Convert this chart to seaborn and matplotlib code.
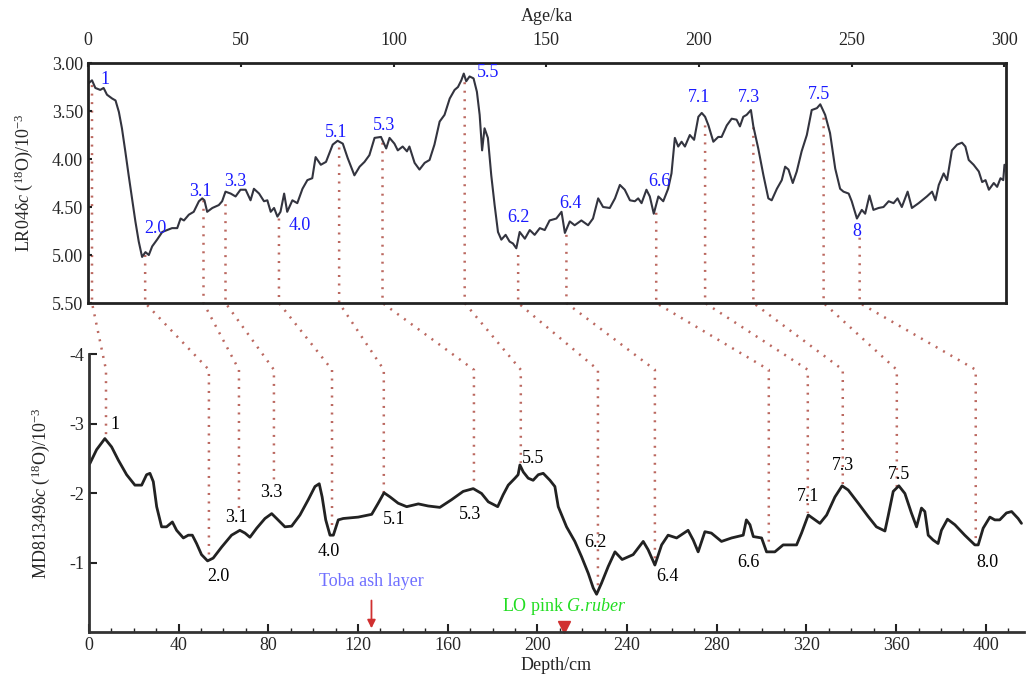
import numpy as np
import pandas as pd
import matplotlib
matplotlib.use("Agg")
import matplotlib.pyplot as plt
import seaborn as sns
from matplotlib.lines import Line2D

# LR04 stack (age in ka, value)
lr04_age = [0.2, 1.3, 2.4, 4.0, 5.1, 6.2, 7.9, 9.0, 10.1, 11.1, 12.2, 13.3, 14.4, 15.5, 16.6, 17.7,
            18.8, 19.9, 21.0, 22.6, 24.3, 27.5, 29.2, 30.3, 31.4, 33.0, 34.6, 36.3, 37.4, 38.1, 39.0,
            40.7, 42.8, 43.9, 45.0, 46.7, 48.3, 49.9, 51.6, 53.2, 54.3, 56.0, 57.6, 58.7, 59.8, 60.9,
            62.0, 63.0, 64.2, 65.2, 66.9, 68.5, 70.2, 71.8, 73.4, 74.5, 76.2, 77.9, 80.1, 81.7, 83.4,
            85.0, 87.2, 88.9, 90.5, 92.1, 93.8, 95.9, 97.6, 98.7, 100.3, 101.4, 103.0, 104.4, 105.2,
            106.9, 108.5, 110.2, 111.8, 113.4, 115.1, 116.7, 118.4, 120.0, 121.1, 122.2, 123.0, 123.8,
            124.9, 126.2, 127.3, 128.2, 129.0, 129.8, 130.9, 132.0, 133.1, 134.2, 135.3, 136.7, 138.0,
            139.1, 140.2, 141.3, 143.0, 144.6, 146.2, 147.9, 149.5, 151.1, 153.3, 155.0, 156.1, 157.7,
            159.3, 161.5, 163.7, 165.3, 167.0, 168.6, 170.8, 172.5, 174.1, 175.7, 177.4, 179.0, 180.1,
            181.2, 182.8, 183.9, 185.2, 186.7, 188.3, 189.9, 191.0, 192.1, 193.2, 194.3, 195.4, 197.0,
            198.4, 199.8, 200.9, 202.0, 203.1, 204.7, 206.3, 207.4, 209.1, 210.7, 212.3, 213.4, 214.5,
            215.6, 217.0, 217.8, 219.4, 221.1, 222.7, 223.8, 225.5, 227.1, 228.2, 229.3, 230.7, 232.0,
            233.6, 235.3, 236.9, 238.6, 239.7, 241.3, 242.9, 244.6, 246.2, 247.3, 249.0, 250.0, 251.7,
            253.3, 254.4, 255.8, 257.1, 258.8, 260.4, 262.1, 263.7, 265.0, 266.4, 268.3, 269.7, 271.9,
            274.6, 276.3, 277.4, 278.5, 280.1, 281.2, 282.8, 284.5, 286.1, 287.2, 288.3, 289.9, 291.6,
            292.7, 293.8, 294.9, 296.5, 297.6, 298.7, 299.6, 300.0]
lr04_val = [3.21, 3.18, 3.26, 3.28, 3.26, 3.33, 3.37, 3.39, 3.51, 3.68, 3.92, 4.17, 4.41, 4.65, 4.86, 5.02,
            4.97, 5.00, 4.91, 4.84, 4.76, 4.72, 4.72, 4.62, 4.64, 4.58, 4.55, 4.44, 4.41, 4.43, 4.55,
            4.51, 4.48, 4.44, 4.34, 4.36, 4.39, 4.32, 4.32, 4.43, 4.31, 4.36, 4.44, 4.43, 4.55, 4.51,
            4.60, 4.55, 4.36, 4.55, 4.43, 4.46, 4.31, 4.22, 4.20, 3.98, 4.06, 4.03, 3.85, 3.81, 3.84,
            3.99, 4.17, 4.08, 4.03, 3.96, 3.78, 3.77, 3.89, 3.78, 3.84, 3.91, 3.87, 3.92, 3.87,
            4.04, 4.11, 4.04, 4.01, 3.85, 3.61, 3.54, 3.37, 3.28, 3.25, 3.18, 3.11, 3.19,
            3.14, 3.16, 3.30, 3.54, 3.91, 3.68, 3.78, 4.17, 4.48, 4.76, 4.84, 4.79, 4.86,
            4.88, 4.93, 4.76, 4.83, 4.74, 4.79, 4.72, 4.74, 4.64, 4.62, 4.55, 4.77, 4.65,
            4.69, 4.64, 4.69, 4.62, 4.41, 4.50, 4.51, 4.41, 4.27, 4.32, 4.43, 4.44, 4.41,
            4.46, 4.32, 4.39, 4.57, 4.39, 4.44, 4.31, 4.15, 3.78, 3.87, 3.82, 3.87, 3.75,
            3.80, 3.56, 3.52, 3.56, 3.65, 3.82, 3.77, 3.77, 3.65, 3.58, 3.59, 3.66, 3.56,
            3.54, 3.49, 3.66, 3.89, 4.17, 4.41, 4.43, 4.31, 4.22, 4.08, 4.11, 4.25, 4.13,
            3.92, 3.75, 3.49, 3.47, 3.43, 3.54, 3.73, 4.10, 4.31, 4.34, 4.36, 4.44, 4.62,
            4.53, 4.57, 4.38, 4.53, 4.51, 4.50, 4.44, 4.46, 4.41, 4.50, 4.34, 4.51, 4.46,
            4.39, 4.34, 4.43, 4.27, 4.15, 4.22, 3.91, 3.85, 3.83, 3.87, 4.01, 4.06, 4.13,
            4.24, 4.22, 4.32, 4.25, 4.29, 4.20, 4.22, 4.06]

# MD81349 record (depth in cm, value)
md_depth = [0.4, 3.4, 7.1, 10.1, 13.1, 16.8, 20.5, 23.5, 25.7, 27.2, 28.7, 30.2, 32.4, 34.6, 37.2, 39.1,
            42.1, 44.3, 46.1, 48.0, 50.2, 52.9, 55.4, 59.2, 63.6, 67.3, 69.6, 71.8, 74.8, 78.5, 81.5,
            83.7, 87.4, 90.4, 94.1, 97.8, 100.8, 102.7, 104.0, 105.6, 107.5, 109.0, 111.2, 113.4, 120.1,
            126.1, 129.0, 131.6, 134.3, 137.9, 141.7, 146.9, 151.3, 156.5, 161.7, 166.9, 171.4, 175.1,
            178.1, 182.3, 184.7, 187.0, 190.0, 191.4, 192.2, 193.7, 195.9, 198.1, 200.4, 202.6, 205.6,
            207.8, 209.3, 213.0, 216.7, 219.7, 222.7, 224.9, 226.4, 228.6, 231.6, 234.6, 237.8, 242.7,
            247.2, 249.4, 252.4, 255.4, 258.3, 262.1, 267.2, 269.5, 271.7, 274.7, 277.6, 282.1, 286.6,
            291.8, 293.2, 294.8, 296.3, 300.0, 302.2, 305.9, 309.6, 315.6, 317.8, 320.8, 323.0, 326.0,
            329.0, 332.7, 335.9, 338.6, 343.1, 347.5, 351.2, 355.0, 356.4, 358.7, 361.2, 363.9, 366.8,
            369.1, 371.3, 372.8, 374.3, 376.5, 378.7, 380.2, 382.9, 386.2, 390.6, 395.1, 396.6, 398.8,
            401.8, 404.0, 406.2, 409.2, 411.5, 414.4, 415.9]
md_val = [-2.43, -2.63, -2.79, -2.67, -2.48, -2.27, -2.12, -2.12, -2.27, -2.29, -2.17, -1.81, -1.52, -1.52,
          -1.59, -1.47, -1.36, -1.40, -1.40, -1.28, -1.12, -1.03, -1.07, -1.23, -1.40, -1.47, -1.43, -1.37,
          -1.50, -1.64, -1.71, -1.64, -1.52, -1.53, -1.69, -1.91, -2.10, -2.14, -1.95, -1.62, -1.40, -1.40,
          -1.62, -1.64, -1.66, -1.70, -1.86, -2.01, -1.95, -1.86, -1.81, -1.85, -1.82, -1.80, -1.91, -2.03,
          -2.07, -2.00, -1.88, -1.81, -1.98, -2.12, -2.22, -2.27, -2.41, -2.31, -2.22, -2.19, -2.27, -2.29,
          -2.19, -2.10, -1.81, -1.52, -1.31, -1.09, -0.85, -0.64, -0.55, -0.71, -0.95, -1.16, -1.05, -1.12,
          -1.31, -1.19, -0.97, -1.26, -1.40, -1.36, -1.47, -1.33, -1.16, -1.45, -1.43, -1.31, -1.36, -1.40,
          -1.62, -1.55, -1.38, -1.36, -1.16, -1.16, -1.26, -1.26, -1.43, -1.69, -1.64, -1.57, -1.69, -1.95,
          -2.11, -2.05, -1.86, -1.67, -1.52, -1.46, -1.67, -2.03, -2.11, -2.00, -1.72, -1.52, -1.79, -1.74,
          -1.40, -1.33, -1.28, -1.47, -1.63, -1.55, -1.40, -1.26, -1.26, -1.50, -1.66, -1.62, -1.62, -1.72,
          -1.74, -1.64, -1.57]

# tie points: stage label, LR04 age, LR04 value, MD81349 depth, MD81349 value
tie_label = ["1", "2.0", "3.1", "3.3", "4.0", "5.1", "5.3", "5.5", "6.2", "6.4", "6.6", "7.1", "7.3", "7.5", "8.0"]
tie_age = [1.3, 18.7, 37.8, 45.0, 62.5, 82.2, 96.4, 123.3, 140.8, 156.6, 186.0, 202.0, 217.8, 240.8, 252.6]
tie_top = [3.23, 5.00, 4.43, 4.47, 4.62, 3.88, 3.83, 3.20, 5.00, 4.79, 4.56, 3.65, 3.67, 3.57, 4.82]
tie_depth = [7.6, 53.5, 66.9, 82.5, 108.4, 131.5, 171.7, 192.6, 227.0, 252.4, 303.2, 320.6, 336.2, 360.3, 395.5]
tie_bot = [-2.80, -1.07, -1.74, -2.15, -1.47, -2.00, -2.09, -2.44, -0.58, -1.00, -1.29, -1.72, -2.12, -2.09, -1.26]

# label positions (text)
top_lab_text = ["1", "2.0", "3.1", "3.3", "4.0", "5.1", "5.3", "5.5", "6.2", "6.4", "6.6", "7.1", "7.3", "7.5", "8"]
top_lab_x = [5.6, 22.0, 36.7, 48.2, 69.2, 81.3, 97.0, 130.8, 141.0, 158.0, 186.9, 200.0, 216.4, 239.3, 251.8]
top_lab_y = [3.17, 4.72, 4.34, 4.23, 4.69, 3.72, 3.65, 3.10, 4.61, 4.46, 4.23, 3.36, 3.36, 3.33, 4.75]
bot_lab_x = [11.6, 57.5, 65.6, 81.2, 107.0, 136.0, 169.9, 198.0, 226.0, 258.2, 294.3, 320.6, 336.2, 361.2, 400.9]
bot_lab_y = [-2.99, -0.80, -1.65, -2.02, -1.16, -1.62, -1.70, -2.51, -1.29, -0.80, -1.00, -1.95, -2.40, -2.27, -1.00]

sns.set_style("ticks")
plt.rcParams['font.family'] = ['Liberation Serif', 'DejaVu Serif']
plt.rcParams['mathtext.fontset'] = 'custom'
plt.rcParams['mathtext.rm'] = 'Liberation Serif'
plt.rcParams['mathtext.it'] = 'Liberation Serif:italic'
plt.rcParams['axes.unicode_minus'] = False
fs = 13

fig = plt.figure(figsize=(10.26, 6.91), dpi=100)
ax1 = fig.add_axes([0.0858, 0.5615, 0.8947, 0.3473])
ax2 = fig.add_axes([0.0867, 0.0847, 0.9113, 0.4023])
ax1.patch.set_visible(False)
ax2.patch.set_visible(False)

df_top = pd.DataFrame({'age': lr04_age, 'val': lr04_val})
df_bot = pd.DataFrame({'depth': md_depth, 'val': md_val})

sns.lineplot(data=df_top, x='age', y='val', ax=ax1, color='#33343f', lw=1.5, sort=False, estimator=None)
sns.lineplot(data=df_bot, x='depth', y='val', ax=ax2, color='#222222', lw=2, sort=False, estimator=None)

# top panel
ax1.set_xlim(0, 300.5)
ax1.set_ylim(5.5, 3.0)
ax1.xaxis.set_ticks_position('top')
ax1.xaxis.set_label_position('top')
ax1.set_xticks(np.arange(0, 301, 50))
ax1.set_yticks(np.arange(3.0, 5.51, 0.5))
ax1.set_yticklabels([f"{v:.2f}" for v in np.arange(3.0, 5.51, 0.5)])
ax1.tick_params(axis='both', direction='in', length=3, width=1.5, labelsize=fs, color='#222222')
ax1.tick_params(axis='x', pad=10)
ax1.set_xlabel("Age/ka", fontsize=fs, labelpad=8)
ax1.set_ylabel(r"LR04δ$c$ ($^{18}$O)/10$^{-3}$", fontsize=fs, labelpad=12)
for s in ax1.spines.values():
    s.set_linewidth(2)
    s.set_color('#222222')
for t, x, y in zip(top_lab_text, top_lab_x, top_lab_y):
    ax1.text(x, y, t, color='#1a1aff', fontsize=fs, ha='center', va='center')

# bottom panel
ax2.set_xlim(0, 417)
ax2.set_ylim(0, -4)
ax2.set_xticks(np.arange(0, 401, 40))
ax2.set_xticks(np.arange(0, 417, 10), minor=True)
ax2.set_yticks([-1, -2, -3, -4])
ax2.tick_params(axis='both', which='major', direction='in', length=6, width=1.5, labelsize=fs, color='#222222')
ax2.tick_params(axis='x', which='minor', direction='in', length=3, width=1, color='#222222')
ax2.set_xlabel("Depth/cm", fontsize=fs, labelpad=2)
ax2.set_ylabel(r"MD81349δ$c$ ($^{18}$O)/10$^{-3}$", fontsize=fs, labelpad=12)
sns.despine(ax=ax2)
for s in ['left', 'bottom']:
    ax2.spines[s].set_linewidth(2)
    ax2.spines[s].set_color('#333333')
for t, x, y in zip(tie_label, bot_lab_x, bot_lab_y):
    ax2.text(x, y, t, color='black', fontsize=fs, ha='center', va='center')

ax2.text(126, -0.74, "Toba ash layer", color='#7070ff', fontsize=fs, ha='center', va='center')
ax2.annotate("", xy=(126, -0.02), xytext=(126, -0.50),
             arrowprops=dict(arrowstyle='-|>', color='#d03030', lw=1.3, mutation_scale=12))
ax2.text(212, -0.37, r"LO pink $G$.$ruber$", color='#22dd22', fontsize=fs, ha='center', va='center')
ax2.plot([212], [-0.08], marker='v', color='#d03030', markersize=8, clip_on=False)

# dotted tie lines across both panels
to_fig = fig.transFigure.inverted()
for a, tv, d, bv in zip(tie_age, tie_top, tie_depth, tie_bot):
    p1 = ax1.transData.transform([(a, tv), (a, 5.5)])
    p2 = ax2.transData.transform([(d, -3.78), (d, bv)])
    pts = to_fig.transform(np.vstack([p1, p2]))
    fig.add_artist(Line2D(pts[:, 0], pts[:, 1], color='#b4584f', lw=1.8,
                          linestyle=(0, (0.8, 2.6)), alpha=0.9, zorder=-1))

fig.savefig("out.png", dpi=100)
